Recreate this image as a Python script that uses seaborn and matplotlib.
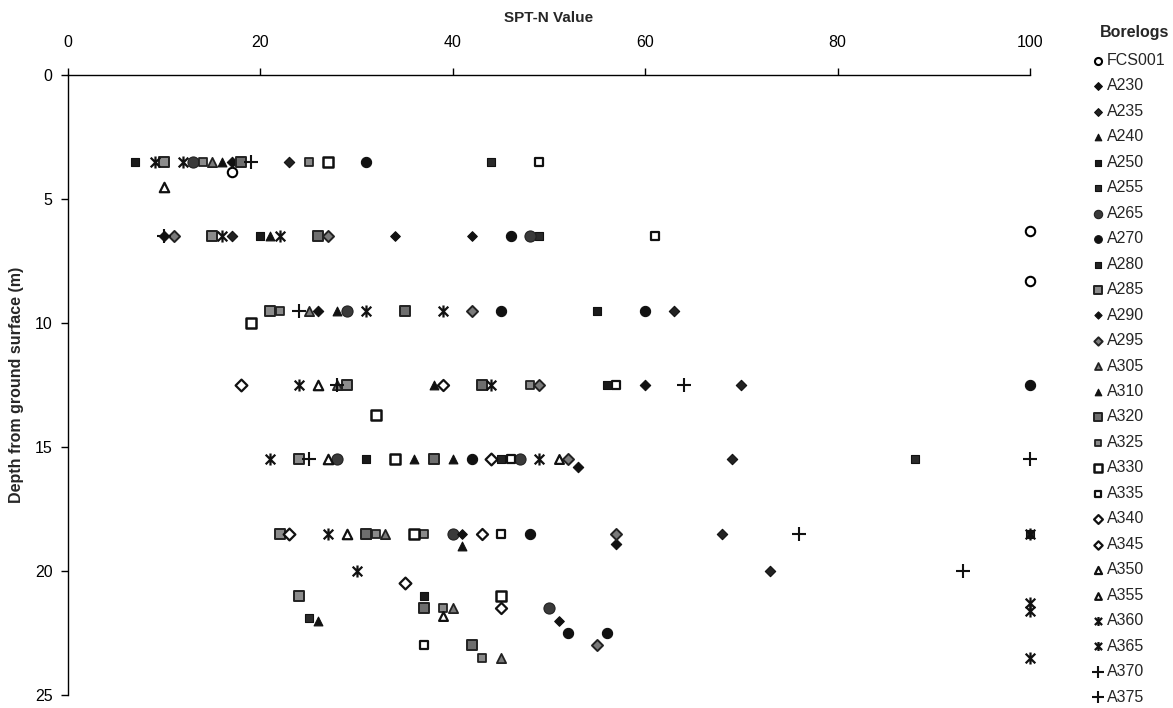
import matplotlib
matplotlib.use("Agg")
import matplotlib.pyplot as plt
from matplotlib.path import Path
import seaborn as sns
import pandas as pd

# SPT-N values and sample depths (m) for each borelog
FCS001_N = [17, 100, 100]
FCS001_D = [3.9, 6.3, 8.3]
A230_N = [17, 10, 26, 60, 53, 57]
A230_D = [3.5, 6.5, 9.5, 12.5, 15.8, 18.9]
A235_N = [23, 17, 63, 70, 69, 68, 73]
A235_D = [3.5, 6.5, 9.5, 12.5, 15.5, 18.5, 20.0]
A240_N = [16, 21, 28, 38, 36, 41]
A240_D = [3.5, 6.5, 9.5, 12.5, 15.5, 19.0]
A250_N = [7, 20, 55, 56, 31, 37]
A250_D = [3.5, 6.5, 9.5, 12.5, 15.5, 21.0]
A255_N = [44, 49, 88, 25]
A255_D = [3.5, 6.5, 15.5, 21.9]
A265_N = [13, 48, 29, 28, 47, 40, 50]
A265_D = [3.5, 6.5, 9.5, 15.5, 15.5, 18.5, 21.5]
A270_N = [31, 46, 45, 60, 100, 42, 48, 52, 56]
A270_D = [3.5, 6.5, 9.5, 9.5, 12.5, 15.5, 18.5, 22.5, 22.5]
A280_N = [45, 100]
A280_D = [15.5, 18.5]
A285_N = [10, 15, 21, 29, 24, 22, 24]
A285_D = [3.5, 6.5, 9.5, 12.5, 15.5, 18.5, 21.0]
A290_N = [34, 42, 41, 51]
A290_D = [6.5, 6.5, 18.5, 22.0]
A295_N = [11, 27, 42, 49, 52, 57, 55]
A295_D = [6.5, 6.5, 9.5, 12.5, 15.5, 18.5, 23.0]
A305_N = [15, 25, 28, 31, 33, 40, 45]
A305_D = [3.5, 9.5, 12.5, 18.5, 18.5, 21.5, 23.5]
A310_N = [40, 26]
A310_D = [15.5, 22.0]
A320_N = [18, 26, 35, 43, 38, 31, 37, 42]
A320_D = [3.5, 6.5, 9.5, 12.5, 15.5, 18.5, 21.5, 23.0]
A325_N = [14, 25, 22, 48, 32, 37, 39, 43]
A325_D = [3.5, 3.5, 9.5, 12.5, 18.5, 18.5, 21.5, 23.5]
A330_N = [27, 19, 32, 34, 36, 45]
A330_D = [3.5, 10.0, 13.7, 15.5, 18.5, 21.0]
A335_N = [49, 61, 57, 46, 45, 37]
A335_D = [3.5, 6.5, 12.5, 15.5, 18.5, 23.0]
A340_N = [18, 44, 23, 35]
A340_D = [12.5, 15.5, 18.5, 20.5]
A345_N = [39, 43, 45]
A345_D = [12.5, 18.5, 21.5]
A350_N = [10, 26, 27, 29]
A350_D = [4.5, 12.5, 15.5, 18.5]
A355_N = [51, 39]
A355_D = [15.5, 21.8]
A360_N = [9, 16, 31, 24, 21, 27, 100, 100]
A360_D = [3.5, 6.5, 9.5, 12.5, 15.5, 18.5, 21.3, 23.5]
A365_N = [12, 22, 39, 44, 49, 30, 100, 100]
A365_D = [3.5, 6.5, 9.5, 12.5, 15.5, 20.0, 18.5, 21.6]
A370_N = [19, 10, 24, 28, 25, 76, 93]
A370_D = [3.5, 6.5, 9.5, 12.5, 15.5, 18.5, 20.0]
A375_N = [64, 100]
A375_D = [12.5, 15.5]

series = [
    ("FCS001", FCS001_N, FCS001_D), ("A230", A230_N, A230_D),
    ("A235", A235_N, A235_D), ("A240", A240_N, A240_D),
    ("A250", A250_N, A250_D), ("A255", A255_N, A255_D),
    ("A265", A265_N, A265_D), ("A270", A270_N, A270_D),
    ("A280", A280_N, A280_D), ("A285", A285_N, A285_D),
    ("A290", A290_N, A290_D), ("A295", A295_N, A295_D),
    ("A305", A305_N, A305_D), ("A310", A310_N, A310_D),
    ("A320", A320_N, A320_D), ("A325", A325_N, A325_D),
    ("A330", A330_N, A330_D), ("A335", A335_N, A335_D),
    ("A340", A340_N, A340_D), ("A345", A345_N, A345_D),
    ("A350", A350_N, A350_D), ("A355", A355_N, A355_D),
    ("A360", A360_N, A360_D), ("A365", A365_N, A365_D),
    ("A370", A370_N, A370_D), ("A375", A375_N, A375_D),
]

# star marker: an X crossed by a vertical stroke
STAR = Path([(-1, -1), (1, 1), (-1, 1), (1, -1), (0, -1.25), (0, 1.25)],
            [Path.MOVETO, Path.LINETO, Path.MOVETO, Path.LINETO,
             Path.MOVETO, Path.LINETO])

# marker, size, face, edge, linewidth
styles = {
    "FCS001": ("o", 46, "white", "black", 1.5),
    "A230": ("D", 28, "#111111", "#111111", 0.8),
    "A235": ("D", 28, "#222222", "#111111", 0.8),
    "A240": ("^", 40, "#111111", "#111111", 0.8),
    "A250": ("s", 38, "#1a1a1a", "#111111", 0.8),
    "A255": ("s", 38, "#2a2a2a", "#111111", 0.8),
    "A265": ("o", 64, "#3a3a3a", "#222222", 0.8),
    "A270": ("o", 54, "#111111", "#111111", 0.8),
    "A280": ("s", 38, "#222222", "#111111", 0.8),
    "A285": ("s", 50, "#8c8c8c", "#222222", 1.4),
    "A290": ("D", 24, "#111111", "#111111", 0.8),
    "A295": ("D", 32, "#7a7a7a", "#222222", 1.4),
    "A305": ("^", 44, "#7a7a7a", "#222222", 1.3),
    "A310": ("^", 40, "#111111", "#111111", 0.8),
    "A320": ("s", 50, "#6e6e6e", "#222222", 1.4),
    "A325": ("s", 34, "#8a8a8a", "#222222", 1.3),
    "A330": ("s", 60, "white", "#111111", 1.8),
    "A335": ("s", 36, "white", "#111111", 1.6),
    "A340": ("D", 36, "white", "#111111", 1.6),
    "A345": ("D", 32, "white", "#111111", 1.6),
    "A350": ("^", 46, "white", "#111111", 1.6),
    "A355": ("^", 40, "white", "#111111", 1.6),
    "A360": (STAR, 75, "#111111", "#111111", 1.6),
    "A365": (STAR, 75, "#111111", "#111111", 1.6),
    "A370": ("+", 115, "#111111", None, 1.5),
    "A375": ("+", 115, "#111111", None, 1.5),
}

sns.set_style("white")
plt.rcParams["font.family"] = ["Liberation Sans", "DejaVu Sans"]

fig = plt.figure(figsize=(11.73, 7.08), dpi=100)
ax = fig.add_axes([68 / 1173, 13 / 708, 962 / 1173, 620 / 708])

for name, n_vals, d_vals in series:
    df = pd.DataFrame({"N": n_vals, "depth": d_vals})
    marker, size, face, edge, lw = styles[name]
    kws = dict(marker=marker, s=size, color=face, linewidth=lw)
    if edge is not None:
        kws["edgecolor"] = edge
    sns.scatterplot(data=df, x="N", y="depth", ax=ax, label=name,
                    zorder=3, clip_on=False, **kws)

ax.set_xlim(0, 100)
ax.set_ylim(25, 0)
ax.set_xticks(range(0, 101, 20))
ax.set_yticks(range(0, 26, 5))
ax.xaxis.tick_top()
ax.xaxis.set_label_position("top")
for side in ("right", "bottom"):
    ax.spines[side].set_visible(False)
for side in ("top", "left"):
    ax.spines[side].set_color("black")
    ax.spines[side].set_linewidth(1.0)
ax.tick_params(axis="both", direction="out", length=5, width=1.0,
               colors="black", labelsize=11.5)
ax.tick_params(axis="x", top=True, bottom=False, pad=13)
ax.tick_params(axis="y", left=True, pad=6)
ax.set_xlabel("SPT-N Value", fontsize=11, fontweight="bold", labelpad=9)
ax.set_ylabel("Depth from ground surface (m)", fontsize=11.5,
              fontweight="bold", labelpad=8)
ax.grid(False)

leg = ax.legend(loc="upper left", bbox_to_anchor=(1090 / 1173, 1 - 53 / 708),
                bbox_transform=fig.transFigure, frameon=False, fontsize=11.5,
                handletextpad=0.05, labelspacing=0.655, handlelength=1.0,
                borderaxespad=0, borderpad=0, markerscale=0.75)
fig.text(1135 / 1173, 1 - 32 / 708, "Borelogs", ha="center", va="center",
         fontsize=11.5, fontweight="bold")

fig.savefig("out.png", dpi=100)
